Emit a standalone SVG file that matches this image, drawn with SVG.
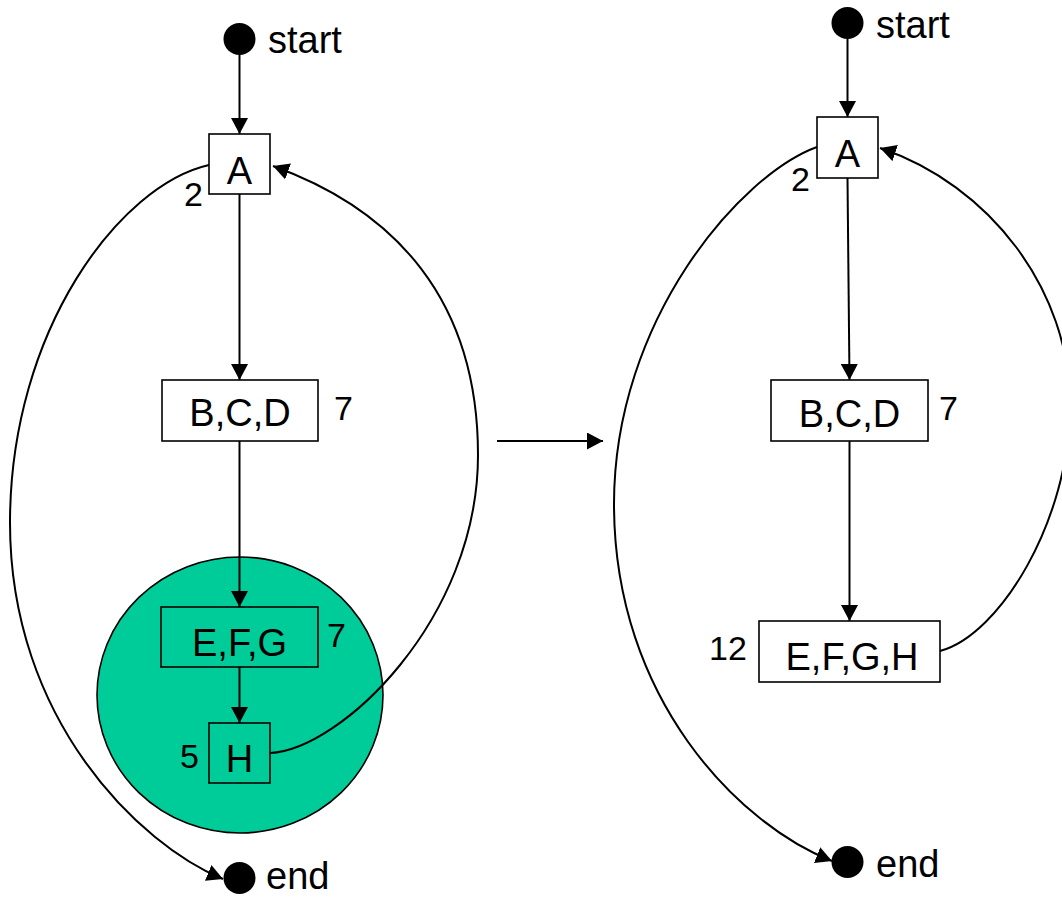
<svg xmlns="http://www.w3.org/2000/svg" width="1062" height="897" viewBox="0 0 1062 897">
  <style>
    .box { fill: #ffffff; stroke: #000000; stroke-width: 1.6; }
    .box.clear { fill: none; }
    .term { fill: #000000; }
    .lbl { font-family: "Liberation Sans", Arial, sans-serif; fill: #000000; font-size: 38px; }
    .num { font-family: "Liberation Sans", Arial, sans-serif; fill: #000000; font-size: 34px; }
    .mid { text-anchor: middle; }
    .edge { fill: none; stroke: #000000; stroke-width: 2; marker-end: url(#arrow); }
  </style>
  <defs>
    <marker id="arrow" markerUnits="userSpaceOnUse" markerWidth="17" markerHeight="17" refX="16" refY="8.5" orient="auto">
      <path d="M0,0 L16,8.5 L0,17 Z" fill="#000000"/>
    </marker>
  </defs>

  <rect width="1062" height="897" fill="#ffffff"/>

  <!-- highlighted cluster around E,F,G and H -->
  <g id="cluster">
    <ellipse cx="240" cy="695" rx="143" ry="138" fill="#00cc99" stroke="#000000" stroke-width="1.6"/>
  </g>

  <g id="connectors">
    <!-- left graph -->
    <line class="edge" x1="239.5" y1="55" x2="239.5" y2="134"/>
    <line class="edge" x1="239.5" y1="194" x2="239.5" y2="380"/>
    <line class="edge" x1="239.5" y1="441" x2="239.5" y2="607"/>
    <line class="edge" x1="239.5" y1="667" x2="239.5" y2="723"/>
    <path class="edge" d="M270,753 C340,750 478,620 478,455 C478,300 395,210 273,166"/>
    <path class="edge" d="M209,165 C120,185 10,330 10,523 C10,720 140,845 223,879"/>
    <!-- transformation arrow -->
    <line class="edge" x1="497" y1="441" x2="603" y2="441"/>
    <!-- right graph -->
    <line class="edge" x1="847.5" y1="39" x2="847.5" y2="117"/>
    <line class="edge" x1="847.5" y1="178" x2="849.5" y2="380"/>
    <line class="edge" x1="849.5" y1="441" x2="849.5" y2="621"/>
    <path class="edge" d="M940,651 C1000,635 1070,520 1070,405 C1070,290 990,185 880,148"/>
    <path class="edge" d="M817,147 C740,175 614,320 614,504 C614,700 740,825 832,861"/>
  </g>

  <!-- left graph nodes -->
  <g id="start-left">
    <circle class="term" cx="239.5" cy="39" r="16"/>
    <text class="lbl" x="268" y="53">start</text>
  </g>
  <g id="a-left">
    <rect class="box" x="209" y="134" width="61" height="60"/>
    <text class="lbl mid" x="239.5" y="184">A</text>
    <text class="num" x="184" y="206">2</text>
  </g>
  <g id="bcd-left">
    <rect class="box" x="162" y="380" width="156" height="61"/>
    <text class="lbl mid" x="240" y="426">B,C,D</text>
    <text class="num" x="334" y="420">7</text>
  </g>
  <g id="efg-left">
    <rect class="box clear" x="161" y="607" width="157" height="60"/>
    <text class="lbl mid" x="239.5" y="656">E,F,G</text>
    <text class="num" x="327" y="647">7</text>
  </g>
  <g id="h-left">
    <rect class="box clear" x="209" y="723" width="61" height="60"/>
    <text class="lbl mid" x="239.5" y="772">H</text>
    <text class="num" x="180" y="768">5</text>
  </g>
  <g id="end-left">
    <circle class="term" cx="239.5" cy="878" r="16"/>
    <text class="lbl" x="266" y="889">end</text>
  </g>

  <!-- right graph nodes -->
  <g id="start-right">
    <circle class="term" cx="847.5" cy="23" r="16"/>
    <text class="lbl" x="876" y="37.5">start</text>
  </g>
  <g id="a-right">
    <rect class="box" x="817" y="117" width="61" height="61"/>
    <text class="lbl mid" x="847.5" y="167">A</text>
    <text class="num" x="791" y="190.5">2</text>
  </g>
  <g id="bcd-right">
    <rect class="box" x="771" y="380" width="157" height="61"/>
    <text class="lbl mid" x="849.5" y="427">B,C,D</text>
    <text class="num" x="939" y="420">7</text>
  </g>
  <g id="efgh-right">
    <rect class="box" x="759" y="621" width="181" height="61"/>
    <text class="lbl mid" x="852" y="670">E,F,G,H</text>
    <text class="num" x="709" y="660">12</text>
  </g>
  <g id="end-right">
    <circle class="term" cx="847.5" cy="862" r="16"/>
    <text class="lbl" x="876" y="876.5">end</text>
  </g>
</svg>
